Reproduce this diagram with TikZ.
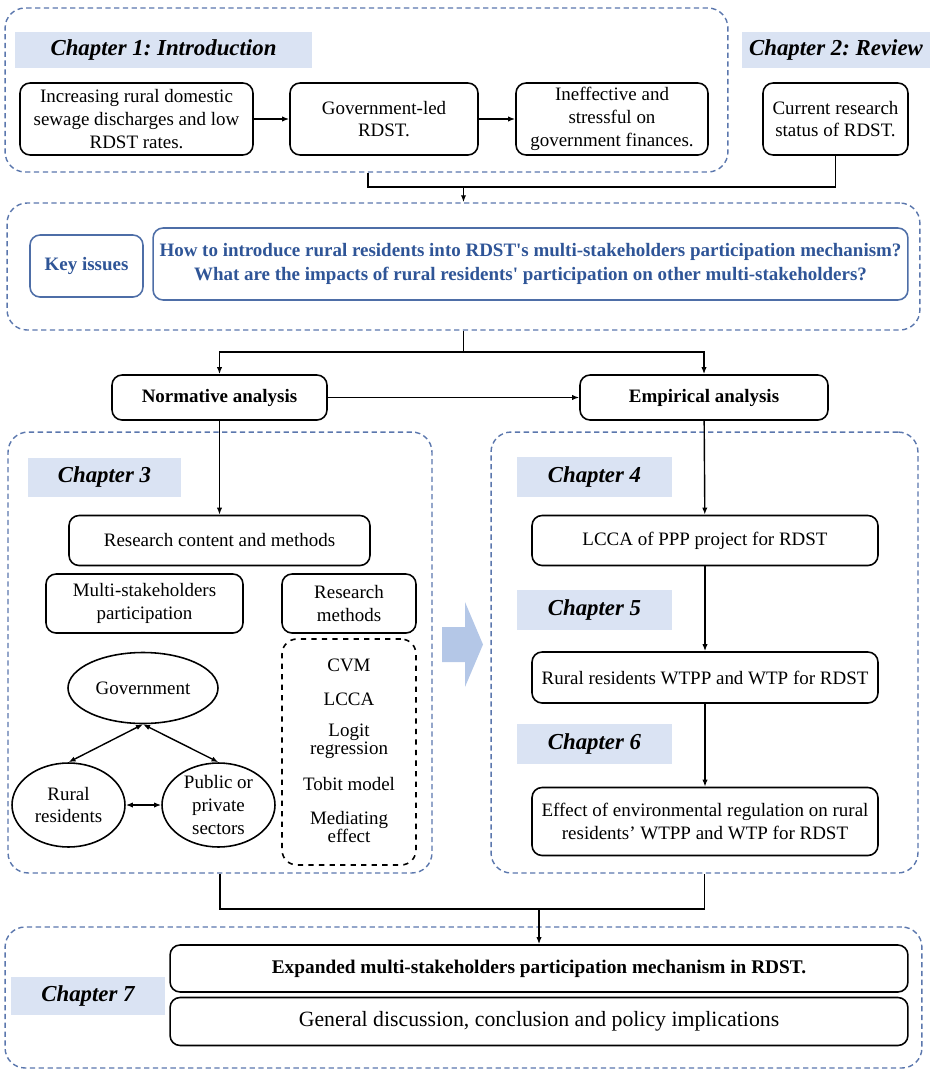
\documentclass[tikz,border=0pt]{standalone}
\usepackage{fontspec}
\setmainfont{Liberation Serif}[Ligatures=TeXOff]
\usetikzlibrary{arrows.meta,shapes.geometric}
\definecolor{labblue}{HTML}{DAE3F3}
\definecolor{framegray}{HTML}{5B77AD}
\definecolor{keyblue}{HTML}{2F5597}
\definecolor{arrowblue}{HTML}{B4C7E7}
\frenchspacing
\begin{document}
\begin{tikzpicture}[x=0.02cm, y=-0.02cm,
  font=\fontsize{10.8}{13}\selectfont,
  >={Latex[length=4pt,width=3pt]},
  frame/.style={draw=framegray, rounded corners=0.4cm, line width=0.8pt, dash pattern=on 3pt off 2pt},
  box/.style={draw, rounded corners=0.2cm, line width=0.9pt, align=center, inner sep=2pt},
  chaplab/.style={fill=labblue, inner sep=0pt, font=\fontsize{13}{15}\selectfont\bfseries\itshape},
  keybox/.style={box, draw=keyblue!85, text=keyblue, font=\fontsize{10.8}{13.5}\selectfont\bfseries},
  oval/.style={draw, ellipse, line width=0.9pt, align=center, inner sep=0pt},
  link/.style={line width=0.8pt}]
\useasboundingbox (0,0) rectangle (930,1072);
% frames
\node[frame, minimum width=14.46cm, minimum height=3.28cm] (introframe) at (366.5,90) {};
\node[frame, minimum width=18.26cm, minimum height=2.54cm] (keyframe) at (463.5,266.5) {};
\node[frame, minimum width=8.48cm, minimum height=8.82cm] (normframe) at (220,652.5) {};
\node[frame, minimum width=8.54cm, minimum height=8.82cm] (empframe) at (704.5,652.5) {};
\node[frame, minimum width=18.34cm, minimum height=2.82cm] (conclframe) at (463.5,997.5) {};
% chapter 1 and 2
\node[chaplab, minimum width=5.94cm, minimum height=0.72cm] (ch1lab) at (163.5,50) {Chapter 1: Introduction};
\node[chaplab, minimum width=3.76cm, minimum height=0.72cm] (ch2lab) at (836,50) {Chapter 2: Review};
\node[box, minimum width=4.66cm, minimum height=1.44cm] (sewage) at (136.5,119) {Increasing rural domestic\\sewage discharges and low\\RDST rates.};
\node[box, minimum width=3.76cm, minimum height=1.44cm] (govled) at (384,119) {Government-led\\RDST.};
\node[box, minimum width=3.84cm, minimum height=1.44cm] (finance) at (612,119) {Ineffective and\\stressful on\\government finances.};
\node[box, minimum width=2.9cm, minimum height=1.44cm] (status) at (835.5,119) {Current research\\status of RDST.};
\draw[link, ->] (sewage) -- (govled);
\draw[link, ->] (govled) -- (finance);
\coordinate (j1) at (368,187);
\coordinate (j2) at (status.south |- j1);
\draw[link] (introframe.south -| j1) -- (j1) -- (j2) -- (status.south);
\draw[link, ->] (keyframe.north |- j1) -- (keyframe.north);
% key issues
\node[keybox, minimum width=2.26cm, minimum height=1.24cm] (key) at (86.5,266) {Key issues};
\node[keybox, minimum width=15.1cm, minimum height=1.44cm] (question) at (530.5,264) {How to introduce rural residents into RDST's multi-stakeholders participation mechanism?\\What are the impacts of rural residents' participation on other multi-stakeholders?};
% analysis
\node[box, font=\fontsize{10.8}{13}\selectfont\bfseries, minimum width=4.3cm, minimum height=0.9cm] (norm) at (219.5,397.5) {Normative analysis};
\node[box, font=\fontsize{10.8}{13}\selectfont\bfseries, minimum width=4.96cm, minimum height=0.9cm] (emp) at (704,397.5) {Empirical analysis};
\coordinate (j3) at (463.5,352);
\draw[link] (keyframe.south) -- (j3);
\draw[link, ->] (j3) -- (norm.north |- j3) -- (norm.north);
\draw[link, ->] (j3) -- (emp.north |- j3) -- (emp.north);
\draw[link, ->] (norm) -- (emp);
% chapter 3
\node[chaplab, minimum width=3.06cm, minimum height=0.78cm] (ch3lab) at (104.5,477.5) {Chapter 3};
\node[box, minimum width=6.02cm, minimum height=1.0cm] (content) at (219.5,540.5) {Research content and methods};
\node[box, minimum width=3.94cm, minimum height=1.18cm] (multi) at (144.5,603.5) {Multi-stakeholders\\participation};
\node[box, minimum width=2.68cm, minimum height=1.18cm] (methods) at (349,603.5) {Research\\methods};
\node[draw, dashed, rounded corners=0.3cm, line width=0.9pt, minimum width=2.68cm, minimum height=4.52cm] (methlist) at (349,752) {};
\node (cvm) at (349,665) {CVM};
\node (lcca) at (349,699) {LCCA};
\node[align=center, font=\fontsize{10.8}{10.5}\selectfont] (logit) at (349,741) {Logit\\regression};
\node (tobit) at (349,784) {Tobit model};
\node[align=center, font=\fontsize{10.8}{10.5}\selectfont] (mediating) at (349,827) {Mediating\\effect};
\node[oval, minimum width=3.0cm, minimum height=1.42cm] (gov) at (143,688) {Government};
\node[oval, minimum width=2.26cm, minimum height=1.68cm] (rural) at (68.5,805) {Rural\\residents};
\node[oval, minimum width=2.26cm, minimum height=1.68cm] (public) at (218.5,805) {Public or\\private\\sectors};
\draw[link, <->] (gov.south) -- (rural.north);
\draw[link, <->] (gov.south) -- (public.north);
\draw[link, <->] (rural) -- (public);
\draw[link, ->] (norm) -- (content);
% big arrow
\fill[arrowblue] (442,627) -- (465,627) -- (465,602) -- (483,644.5) -- (465,687) -- (465,662) -- (442,662) -- cycle;
% chapters 4 to 6
\node[chaplab, minimum width=3.1cm, minimum height=0.8cm] (ch4lab) at (594.5,477) {Chapter 4};
\node[chaplab, minimum width=3.1cm, minimum height=0.8cm] (ch5lab) at (594.5,610) {Chapter 5};
\node[chaplab, minimum width=3.1cm, minimum height=0.8cm] (ch6lab) at (594.5,744) {Chapter 6};
\node[box, minimum width=6.92cm, minimum height=1.0cm] (ppp) at (705,540.5) {LCCA of PPP project for RDST};
\node[box, minimum width=6.92cm, minimum height=1.02cm] (wtpp) at (705,677.5) {Rural residents WTPP and WTP for RDST};
\node[box, minimum width=6.92cm, minimum height=1.36cm] (effect) at (705,821.5) {Effect of environmental regulation on rural\\residents’ WTPP and WTP for RDST};
\draw[link, ->] (emp) -- (ppp);
\draw[link, ->] (ppp) -- (wtpp);
\draw[link, ->] (wtpp) -- (effect);
% chapter 7
\node[chaplab, minimum width=3.1cm, minimum height=0.76cm] (ch7lab) at (88,996) {Chapter 7};
\node[box, font=\fontsize{11}{13}\selectfont\bfseries, minimum width=14.76cm, minimum height=0.94cm] (expanded) at (539,968.5) {Expanded multi-stakeholders participation mechanism in RDST.};
\node[box, font=\fontsize{12.4}{14}\selectfont, minimum width=14.76cm, minimum height=0.96cm] (general) at (539,1021.5) {General discussion, conclusion and policy implications};
\coordinate (j4) at (normframe.south |- 0,909);
\coordinate (j5) at (empframe.south |- 0,909);
\draw[link] (normframe.south) -- (j4) -- (j5) -- (empframe.south);
\draw[link, ->] (expanded.north |- j4) -- (expanded.north);
\end{tikzpicture}
\end{document}
